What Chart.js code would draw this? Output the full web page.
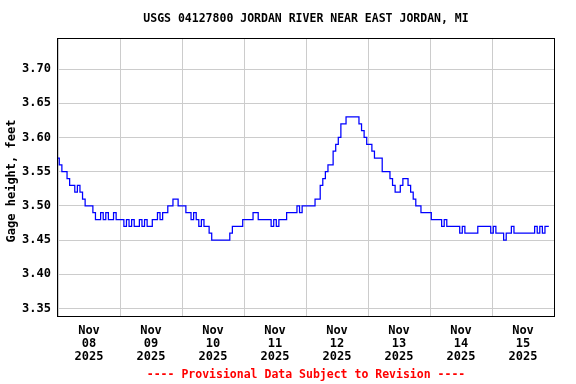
<!DOCTYPE html>
<html>
<head>
<meta charset="utf-8">
<script src="https://cdn.jsdelivr.net/npm/chart.js@4"></script>
<style>
html, body { margin: 0; padding: 0; background: #fff; }
#wrap { width: 576px; height: 384px; }
</style>
</head>
<body>
<div id="wrap"><canvas id="gageChart" width="576" height="384"></canvas></div>
<script>
// gage height readings, one per hour, feet
const nov08 = [3.57,3.56,3.55,3.55,3.54,3.53,3.53,3.52,3.53,3.52,3.51,3.50,3.50,3.50,3.49,3.48,3.48,3.49,3.48,3.49,3.48,3.48,3.49,3.48]
const nov09 = [3.48,3.48,3.47,3.48,3.47,3.48,3.47,3.47,3.48,3.47,3.48,3.47,3.47,3.48,3.48,3.49,3.48,3.49,3.49,3.50,3.50,3.51,3.51,3.50]
const nov10 = [3.50,3.50,3.49,3.49,3.48,3.49,3.48,3.47,3.48,3.47,3.47,3.46,3.45,3.45,3.45,3.45,3.45,3.45,3.45,3.46,3.47,3.47,3.47,3.47]
const nov11 = [3.48,3.48,3.48,3.48,3.49,3.49,3.48,3.48,3.48,3.48,3.48,3.47,3.48,3.47,3.48,3.48,3.48,3.49,3.49,3.49,3.49,3.50,3.49,3.50]
const nov12 = [3.50,3.50,3.50,3.50,3.51,3.51,3.53,3.54,3.55,3.56,3.56,3.58,3.59,3.60,3.62,3.62,3.63,3.63,3.63,3.63,3.63,3.62,3.61,3.60]
const nov13 = [3.59,3.59,3.58,3.57,3.57,3.57,3.55,3.55,3.55,3.54,3.53,3.52,3.52,3.53,3.54,3.54,3.53,3.52,3.51,3.50,3.50,3.49,3.49,3.49]
const nov14 = [3.49,3.48,3.48,3.48,3.48,3.47,3.48,3.47,3.47,3.47,3.47,3.47,3.46,3.47,3.46,3.46,3.46,3.46,3.46,3.47,3.47,3.47,3.47,3.47]
const nov15 = [3.46,3.47,3.46,3.46,3.46,3.45,3.46,3.46,3.47,3.46,3.46,3.46,3.46,3.46,3.46,3.46,3.46,3.47,3.46,3.47,3.46,3.47,3.47]

const dayLabels = ['08','09','10','11','12','13','14','15']
const monthLabel = 'Nov'
const yearLabel = '2025'
const yTicks = [3.35,3.40,3.45,3.50,3.55,3.60,3.65,3.70]

const titleText = 'USGS 04127800 JORDAN RIVER NEAR EAST JORDAN, MI'
const yTitle = 'Gage height, feet'
const footText = '---- Provisional Data Subject to Revision ----'

const heights = [].concat(nov08, nov09, nov10, nov11, nov12, nov13, nov14, nov15)
const points = heights.map((v, i) => ({x: i, y: v}))

const FONT = 'bold 12px "DejaVu Sans Mono"'
const SMALL = 'bold 11.5px "DejaVu Sans Mono"'

const textPlugin = {
id: 'usgsText',
afterDraw(chart) {
const ctx = chart.ctx
const ca = chart.chartArea
ctx.save()
ctx.strokeStyle = '#000'
ctx.lineWidth = 1
ctx.strokeRect(Math.round(ca.left) - 0.5, Math.round(ca.top) - 0.5, Math.round(ca.right - ca.left) + 1, Math.round(ca.bottom - ca.top) + 1)
ctx.textAlign = 'center'
ctx.textBaseline = 'middle'
ctx.fillStyle = '#000'
const cx = (ca.left + ca.right) / 2
ctx.font = SMALL
ctx.fillText(titleText, cx, 19)
ctx.fillStyle = '#ff0000'
ctx.fillText(footText, cx, 375)
ctx.fillStyle = '#000'
ctx.font = FONT
ctx.translate(12, 181)
ctx.rotate(-Math.PI / 2)
ctx.fillText(yTitle, 0, 0)
ctx.restore()
}
}

new Chart(document.getElementById('gageChart'), {
type: 'line',
data: {
datasets: [{
data: points,
borderColor: '#0000ff',
borderWidth: 1.25,
pointRadius: 0,
stepped: 'middle',
fill: false
}]
},
options: {
responsive: false,
animation: false,
layout: { padding: { left: 0, top: 39, right: 22, bottom: 0 } },
plugins: {
legend: { display: false },
tooltip: { enabled: false }
},
scales: {
x: {
type: 'linear',
min: 0,
max: dayLabels.length * 24,
border: { display: false },
afterFit(scale) { scale.height = 68 },
afterBuildTicks(scale) {
const t = []
dayLabels.forEach((d, i) => { t.push({value: i * 24}); t.push({value: i * 24 + 12}) })
t.push({value: dayLabels.length * 24})
scale.ticks = t
},
grid: {
drawTicks: false,
color: c => (c.tick && c.tick.value % 24 === 0) ? '#cccccc' : 'rgba(0,0,0,0)'
},
ticks: {
autoSkip: false,
maxRotation: 0,
padding: 8,
color: '#000',
font: { family: 'DejaVu Sans Mono', size: 12, weight: 'bold', lineHeight: 1.08 },
callback: v => v % 24 === 12 ? [monthLabel, dayLabels[(v - 12) / 24], yearLabel] : ''
}
},
y: {
min: 3.339,
max: 3.744,
border: { display: false },
afterFit(scale) { scale.width = 58 },
afterBuildTicks(scale) { scale.ticks = yTicks.map(v => ({value: v})) },
grid: { drawTicks: false, color: '#cccccc' },
ticks: {
padding: 7,
color: '#000',
font: { family: 'DejaVu Sans Mono', size: 12, weight: 'bold' },
callback: v => v.toFixed(2)
}
}
}
},
plugins: [textPlugin]
})
</script>
</body>
</html>
